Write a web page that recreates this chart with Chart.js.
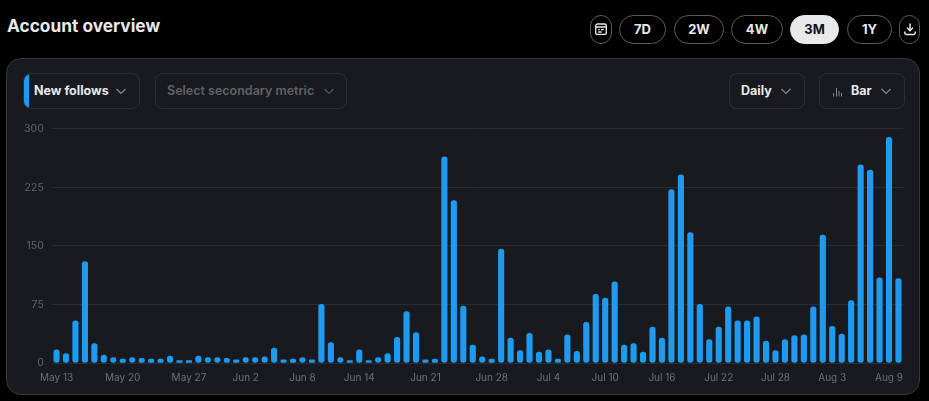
<!DOCTYPE html>
<html>
<head>
<meta charset="utf-8">
<title>Account overview</title>
<script src="https://cdn.jsdelivr.net/npm/chart.js@4"></script>
<style>
  * { box-sizing: border-box; }
  html, body { margin: 0; width: 929px; height: 401px; background: #000; overflow: hidden; font-family: Inter, "Noto Sans", sans-serif; }
  h1 { position: absolute; left: 7px; top: 15px; margin: 0; font-size: 17.3px; line-height: 22px; font-weight: 700; color: #e7e9ea; }

  .pill { position: absolute; top: 15px; height: 29px; padding-bottom: 1px; border: 1px solid #5a5d60; border-radius: 15px; color: #e7e9ea; font-size: 13px; font-weight: 700; display: flex; align-items: center; justify-content: center; }
  .pill.on { background: #e7e9ea; color: #0f1419; border-color: #e7e9ea; }

  #panel { position: absolute; left: 6px; top: 58px; width: 914px; height: 337px; background: #181a1f; border: 1px solid #38393c; border-radius: 15px; }

  .select { position: absolute; top: 73px; height: 36px; padding-bottom: 1px; border: 1px solid #2c2e33; border-radius: 8px; display: flex; align-items: center; font-size: 12.5px; font-weight: 700; color: #e7e9ea; overflow: hidden; white-space: nowrap; }
  .select .strip { position: absolute; left: 0; top: 0; bottom: 0; width: 5px; background: #1d9bf0; }
  .select.muted { color: #5f6267; font-weight: 600; }
  .select span.txt { position: absolute; }
  .select svg { position: absolute; }

  #chartBox { position: absolute; left: 6px; top: 118px; width: 914px; height: 276px; }
</style>
</head>
<body>
<h1>Account overview</h1>

<div class="pill" style="left:590px;width:22px">
  <svg width="14" height="14" viewBox="0 0 14 14" fill="none" stroke="#e7e9ea" stroke-width="1.3"><rect x="1.7" y="2" width="10.6" height="10.4" rx="2"/><path d="M2 5h10M4.2 7.6h1.6M7 7.6h2.8M4.2 10h3.4"/></svg>
</div>
<div class="pill" style="left:619px;width:47px">7D</div>
<div class="pill" style="left:674px;width:50px">2W</div>
<div class="pill" style="left:731px;width:52px">4W</div>
<div class="pill on" style="left:790px;width:49px">3M</div>
<div class="pill" style="left:847px;width:45px">1Y</div>
<div class="pill" style="left:899px;width:21px">
  <svg width="14" height="14" viewBox="0 0 14 14" fill="none" stroke="#e7e9ea" stroke-width="1.5"><path d="M7 1.5v7M4 5.8l3 3 3-3M1.8 9.5v1.2c0 1 .7 1.7 1.7 1.7h7c1 0 1.7-.7 1.7-1.7V9.5"/></svg>
</div>

<div id="panel"></div>

<div class="select" style="left:23px;width:117px">
  <div class="strip"></div>
  <span class="txt" style="left:10px">New follows</span>
  <svg style="left:91px;top:13px" width="12" height="9" viewBox="0 0 12 9" fill="none" stroke="#85888c" stroke-width="1.2"><path d="M1.5 2l4.5 4.5L10.5 2"/></svg>
</div>
<div class="select muted" style="left:155px;width:192px">
  <span class="txt" style="left:11px">Select secondary metric</span>
  <svg style="left:167px;top:13px" width="12" height="9" viewBox="0 0 12 9" fill="none" stroke="#55585c" stroke-width="1.2"><path d="M1.5 2l4.5 4.5L10.5 2"/></svg>
</div>
<div class="select" style="left:729px;width:76px">
  <span class="txt" style="left:11px">Daily</span>
  <svg style="left:50px;top:13px" width="12" height="9" viewBox="0 0 12 9" fill="none" stroke="#85888c" stroke-width="1.2"><path d="M1.5 2l4.5 4.5L10.5 2"/></svg>
</div>
<div class="select" style="left:819px;width:86px">
  <svg style="left:12px;top:12px" width="11" height="11" viewBox="0 0 11 11" fill="none" stroke="#85888c" stroke-width="1"><path d="M1.5 10.5V7M4.5 10.5V2M7 10.5V5M9.5 10.5V7"/></svg>
  <span class="txt" style="left:31px">Bar</span>
  <svg style="left:60px;top:13px" width="12" height="9" viewBox="0 0 12 9" fill="none" stroke="#85888c" stroke-width="1.2"><path d="M1.5 2l4.5 4.5L10.5 2"/></svg>
</div>

<div id="chartBox"><canvas id="followsChart"></canvas></div>

<script>
const categories = [
  "May 13","May 14","May 15","May 16","May 17","May 18","May 19","May 20","May 21","May 22",
  "May 23","May 24","May 25","May 26","May 27","May 28","May 29","May 30","May 31","Jun 1",
  "Jun 2","Jun 3","Jun 4","Jun 5","Jun 6","Jun 7","Jun 8","Jun 9","Jun 10","Jun 11",
  "Jun 12","Jun 13","Jun 14","Jun 15","Jun 16","Jun 17","Jun 18","Jun 19","Jun 20","Jun 21",
  "Jun 22","Jun 23","Jun 24","Jun 25","Jun 26","Jun 27","Jun 28","Jun 29","Jun 30","Jul 1",
  "Jul 2","Jul 3","Jul 4","Jul 5","Jul 6","Jul 7","Jul 8","Jul 9","Jul 10","Jul 11",
  "Jul 12","Jul 13","Jul 14","Jul 15","Jul 16","Jul 17","Jul 18","Jul 19","Jul 20","Jul 21",
  "Jul 22","Jul 23","Jul 24","Jul 25","Jul 26","Jul 27","Jul 28","Jul 29","Jul 30","Jul 31",
  "Aug 1","Aug 2","Aug 3","Aug 4","Aug 5","Aug 6","Aug 7","Aug 8","Aug 9","Aug 10"
];

const newFollows = [
  17, 12, 54, 130, 25, 10, 7, 5, 7, 6,
  5, 5, 9, 3, 3, 9, 7, 7, 6, 4,
  7, 7, 8, 19, 4, 5, 7, 4, 75, 26,
  7, 3, 17, 3, 7, 12, 33, 66, 39, 4,
  5, 264, 208, 73, 23, 8, 5, 146, 32, 16,
  38, 14, 17, 5, 36, 15, 52, 88, 83, 104,
  23, 25, 14, 46, 32, 222, 241, 167, 75, 30,
  46, 72, 54, 54, 59, 28, 16, 30, 35, 36,
  72, 164, 47, 37, 80, 254, 247, 109, 289, 108
];

const xTickLabels = [
  "May 13","May 20","May 27","Jun 2","Jun 8","Jun 14","Jun 21","Jun 28",
  "Jul 4","Jul 10","Jul 16","Jul 22","Jul 28","Aug 3","Aug 9"
];
const yTicks = [0, 75, 150, 225, 300];

new Chart(document.getElementById("followsChart"), {
  type: "bar",
  data: {
    labels: categories,
    datasets: [{
      label: "New follows",
      data: newFollows,
      backgroundColor: "#1d9bf0",
      barThickness: 5.5,
      borderRadius: 3,
      borderSkipped: false
    }]
  },
  options: {
    responsive: true,
    maintainAspectRatio: false,
    animation: false,
    layout: { padding: { top: 10.8, right: 16.8, left: 0, bottom: 0 } },
    plugins: { legend: { display: false }, tooltip: { enabled: false } },
    scales: {
      x: {
        offset: true,
        grid: { display: false },
        border: { display: false },
        afterFit: axis => { axis.height = 31; },
        ticks: {
          autoSkip: false,
          maxRotation: 0,
          padding: 1,
          color: "#6c6f73",
          font: { family: "Inter", size: 10 },
          callback(value) {
            const name = categories[value];
            return xTickLabels.includes(name) ? name : "";
          }
        }
      },
      y: {
        min: 0,
        max: 300,
        afterBuildTicks: axis => { axis.ticks = yTicks.map(v => ({ value: v })); },
        afterFit: axis => {
          axis.width = 45.8;
          // the tick padding would otherwise push the plot area down
          axis.paddingTop = 0;
          axis.paddingBottom = 0;
        },
        grid: { color: "#2a2c30", drawTicks: false },
        border: { display: false },
        ticks: {
          padding: 8,
          color: "#5f6267",
          font: { family: "Inter", size: 10.5 }
        }
      }
    }
  }
});
</script>
</body>
</html>
